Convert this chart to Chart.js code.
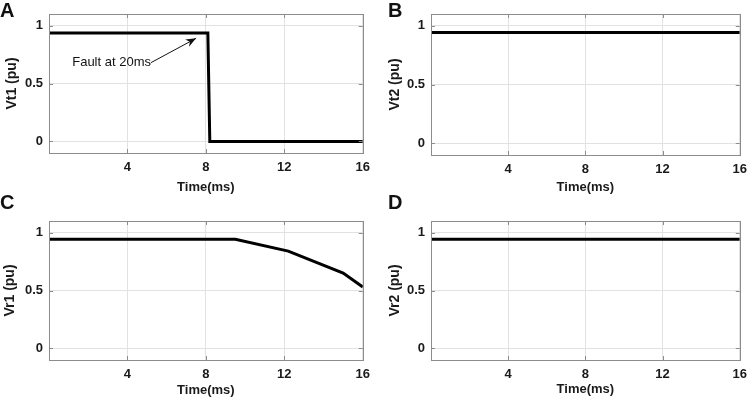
<!DOCTYPE html>
<html lang="en">
<head>
    <meta charset="UTF-8">
    <title>Terminal voltages during fault</title>
    <script src="https://cdn.jsdelivr.net/npm/chart.js"></script>
    <style>
        body { margin: 0; background: #fff; font-family: "Liberation Sans", Arial, sans-serif; }
        #wrap { position: relative; width: 754px; height: 402px; }
        canvas { position: absolute; }
        .tag { position: absolute; font-weight: bold; font-size: 20px; line-height: 20px; color: #111; }
    </style>
</head>
<body>
    <div id="wrap">
        <canvas id="chartA" width="377" height="201" style="left:0;top:0"></canvas>
        <canvas id="chartB" width="377" height="201" style="left:377px;top:0"></canvas>
        <canvas id="chartC" width="377" height="201" style="left:0;top:201px"></canvas>
        <canvas id="chartD" width="377" height="201" style="left:377px;top:201px"></canvas>
        <div class="tag" style="left:0;top:0">A</div>
        <div class="tag" style="left:388px;top:0">B</div>
        <div class="tag" style="left:0;top:192px">C</div>
        <div class="tag" style="left:388px;top:192px">D</div>
    </div>

    <script>
        // values
        const xTicks = [4, 8, 12, 16];
        const yTicks = [0, 0.5, 1];

        const timeVt1 = [0, 8.1, 8.2, 16];
        const vt1 = [0.935, 0.935, 0, 0];

        const timeVt2 = [0, 16];
        const vt2 = [0.943, 0.943];

        const timeVr1 = [0, 9.5, 12.2, 15, 16];
        const vr1 = [0.943, 0.943, 0.84, 0.65, 0.53];

        const timeVr2 = [0, 16];
        const vr2 = [0.943, 0.943];

        // "Fault at 20ms" note in panel A (text end / arrow tail, arrow tip)
        const faultNote = { text: 'Fault at 20ms', tail: [5.2, 0.68], tip: [7.5, 0.89] };

        // inward tick marks + box like MATLAB axes, and the arrow note
        const boxPlugin = {
            id: 'box',
            afterDraw(chart) {
                const ctx = chart.ctx;
                const a = chart.chartArea;
                const xs = chart.scales.x, ys = chart.scales.y;
                ctx.save();
                ctx.strokeStyle = '#8c8c8c';
                ctx.lineWidth = 1;
                ctx.beginPath();
                xTicks.forEach(v => {
                    const px = Math.round(xs.getPixelForValue(v)) + 0.5;
                    ctx.moveTo(px, a.bottom); ctx.lineTo(px, a.bottom - 4);
                    ctx.moveTo(px, a.top); ctx.lineTo(px, a.top + 4);
                });
                yTicks.forEach(v => {
                    const py = Math.round(ys.getPixelForValue(v)) + 0.5;
                    ctx.moveTo(a.left, py); ctx.lineTo(a.left + 4, py);
                    ctx.moveTo(a.right, py); ctx.lineTo(a.right - 4, py);
                });
                ctx.stroke();
                ctx.strokeRect(Math.round(a.left) + 0.5, Math.round(a.top) + 0.5,
                    Math.round(a.right - a.left), Math.round(a.bottom - a.top));

                const note = chart.options.plugins.box.note;
                if (note) {
                    const tx = xs.getPixelForValue(note.tail[0]), ty = ys.getPixelForValue(note.tail[1]);
                    const hx = xs.getPixelForValue(note.tip[0]), hy = ys.getPixelForValue(note.tip[1]);
                    ctx.fillStyle = '#111';
                    ctx.font = '13px "Liberation Sans", Arial, sans-serif';
                    ctx.textAlign = 'right';
                    ctx.textBaseline = 'middle';
                    ctx.fillText(note.text, tx, ty);
                    ctx.strokeStyle = '#111';
                    ctx.beginPath();
                    ctx.moveTo(tx, ty); ctx.lineTo(hx, hy);
                    ctx.stroke();
                    const ang = Math.atan2(hy - ty, hx - tx);
                    ctx.beginPath();
                    ctx.moveTo(hx, hy);
                    ctx.lineTo(hx - 11 * Math.cos(ang - 0.38), hy - 11 * Math.sin(ang - 0.38));
                    ctx.lineTo(hx - 7 * Math.cos(ang), hy - 7 * Math.sin(ang));
                    ctx.lineTo(hx - 11 * Math.cos(ang + 0.38), hy - 11 * Math.sin(ang + 0.38));
                    ctx.closePath();
                    ctx.fill();
                }
                ctx.restore();
            }
        };

        function makePanel(id, times, values, yLabel, box, note) {
            const points = times.map((t, i) => ({ x: t, y: values[i] }));
            return new Chart(document.getElementById(id), {
                type: 'line',
                data: {
                    datasets: [{
                        data: points,
                        borderColor: '#000',
                        borderWidth: 3,
                        pointRadius: 0,
                        tension: 0
                    }]
                },
                plugins: [boxPlugin],
                options: {
                    responsive: false,
                    animation: false,
                    devicePixelRatio: 1,
                    layout: { padding: { left: 0, right: box.right, top: box.top, bottom: 0 } },
                    plugins: {
                        legend: { display: false },
                        tooltip: { enabled: false },
                        box: { note: note }
                    },
                    scales: {
                        x: {
                            type: 'linear',
                            min: 0,
                            max: 16,
                            afterBuildTicks: s => { s.ticks = xTicks.map(v => ({ value: v })); },
                            afterFit: s => { s.height = box.xh; },
                            grid: { color: '#e2e2e2', drawTicks: false },
                            border: { display: false },
                            ticks: {
                                padding: 7,
                                color: '#1a1a1a',
                                callback: v => String(v),
                                font: { family: '"Liberation Sans", Arial, sans-serif', size: 13, weight: 'bold' },
                                maxRotation: 0
                            },
                            title: {
                                display: true,
                                text: 'Time(ms)',
                                color: '#1a1a1a',
                                padding: { top: 0, bottom: box.xtp },
                                font: { family: '"Liberation Sans", Arial, sans-serif', size: 13, weight: 'bold' }
                            }
                        },
                        y: {
                            min: -0.1,
                            max: 1.1,
                            afterBuildTicks: s => { s.ticks = yTicks.map(v => ({ value: v })); },
                            afterFit: s => { s.width = box.left; },
                            grid: { color: '#e2e2e2', drawTicks: false },
                            border: { display: false },
                            ticks: {
                                padding: 6,
                                color: '#1a1a1a',
                                callback: v => String(v),
                                font: { family: '"Liberation Sans", Arial, sans-serif', size: 13, weight: 'bold' }
                            },
                            title: {
                                display: true,
                                text: yLabel,
                                color: '#1a1a1a',
                                padding: { top: box.ytp, bottom: 0 },
                                font: { family: '"Liberation Sans", Arial, sans-serif', size: 14, weight: 'bold' }
                            }
                        }
                    }
                }
            });
        }

        document.addEventListener('DOMContentLoaded', function () {
            makePanel('chartA', timeVt1, vt1, 'Vt1 (pu)', { left: 49, right: 13, top: 14, xh: 48, xtp: 6, ytp: 4 }, faultNote);
            makePanel('chartB', timeVt2, vt2, 'Vt2 (pu)', { left: 54, right: 7, top: 14, xh: 46, xtp: 6, ytp: 10 }, null);
            makePanel('chartC', timeVr1, vr1, 'Vr1 (pu)', { left: 49, right: 13, top: 20, xh: 42, xtp: 4, ytp: 2 }, null);
            makePanel('chartD', timeVr2, vr2, 'Vr2 (pu)', { left: 54, right: 7, top: 20, xh: 42, xtp: 5, ytp: 10 }, null);
        });
    </script>
</body>
</html>
